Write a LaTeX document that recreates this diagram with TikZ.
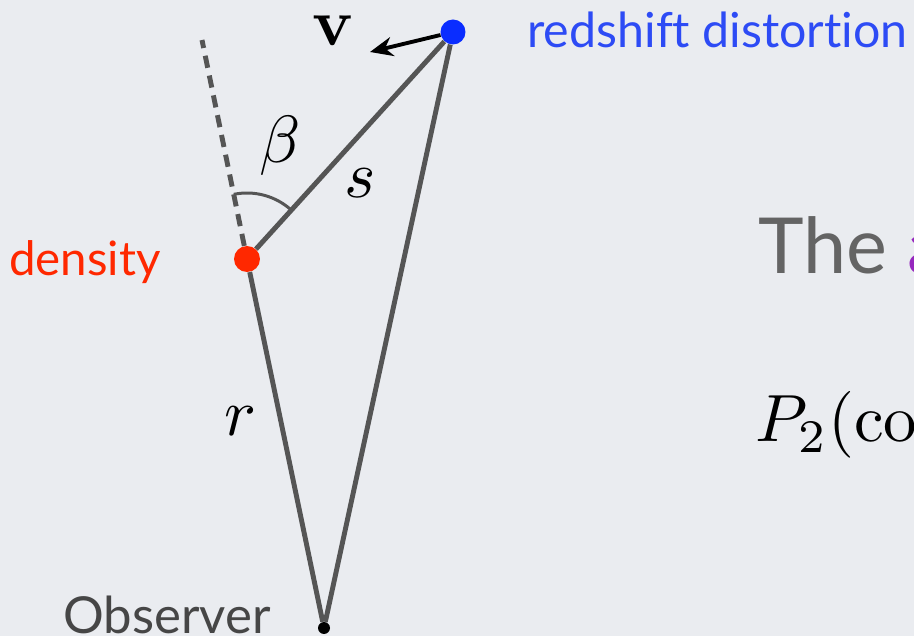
\documentclass[tikz,border=0pt]{standalone}
\usepackage[no-math]{fontspec}
\setmainfont{Lato}[Ligatures=NoCommon]
\usepackage{amsmath}
\usepackage{graphicx}
\usetikzlibrary{arrows.meta,positioning}
\definecolor{bggray}{RGB}{234,236,240}
\definecolor{linegray}{RGB}{85,85,85}
\definecolor{dotred}{RGB}{255,40,0}
\definecolor{dotblue}{RGB}{10,45,255}
\definecolor{textblue}{RGB}{45,75,245}
\definecolor{textgray}{RGB}{70,70,70}
\definecolor{softgray}{RGB}{100,100,100}
\definecolor{apurple}{RGB}{150,40,190}
\newcommand{\mathlbl}[1]{\scalebox{3.8}{$#1$}}
\tikzset{
    dot/.style={circle, inner sep=0pt, minimum size=#1},
    leg/.style={linegray, line width=2.8pt},
    slabel/.style={inner sep=0pt, font=\fontsize{#1}{#1}\selectfont},
}

\begin{document}
\begin{tikzpicture}[x=0.02cm, y=0.02cm]
    % Frame
    \useasboundingbox (0,0) rectangle (914,636);
    \clip (0,0) rectangle (914,636);
    \fill[bggray] (0,0) rectangle (914,636);
    % Points
    \node[dot=0.5cm, fill=dotblue] (rsd) at (453,604) {};
    \node[dot=0.52cm, fill=dotred] (dens) at (247,377) {};
    \node[dot=0.24cm, fill=black] (obs) at (324,8) {};
    \coordinate (los) at (202,596);
    \coordinate (vtip) at (370,584);
    % Triangle
    \draw[leg] (dens) -- (rsd);
    \draw[leg] (rsd) -- (obs);
    \draw[leg] (dens) -- (obs);
    \draw[leg, dash pattern=on 7pt off 4.5pt] (dens) -- (los);
    % Angle
    \draw[linegray, line width=1.7pt] (dens.center) ++(101.6:66) arc[start angle=101.6, end angle=47.8, radius=66];
    % Velocity
    \draw[-{Stealth[length=13pt, width=11pt]}, line width=2.2pt] (rsd) -- (vtip);
    % Labels
    \node (vlbl) at (333,605) {\mathlbl{\mathbf{v}}};
    \node (blbl) at (280,490) {\mathlbl{\beta}};
    \node (slbl) at (360,453) {\mathlbl{s}};
    \node (rlbl) at (240,215) {\mathlbl{r}};
    \node[slabel=27, anchor=east, text=dotred] (denstxt) at (161,374) {density};
    \node[slabel=27.5, anchor=west, text=textblue] (rsdtxt) at (527,606) {redshift distortion};
    \node[slabel=29, anchor=base west, text=textgray] (obstxt) at (63,2) {Observer};
    \node[slabel=44, anchor=base west, text=softgray] (title) at (758,362) {The \textcolor{apurple}{a}};
    \node[inner sep=0pt, anchor=base west] (ptwo) at (755,194) {\mathlbl{P_2(\mathrm{co}}};
\end{tikzpicture}
\end{document}
